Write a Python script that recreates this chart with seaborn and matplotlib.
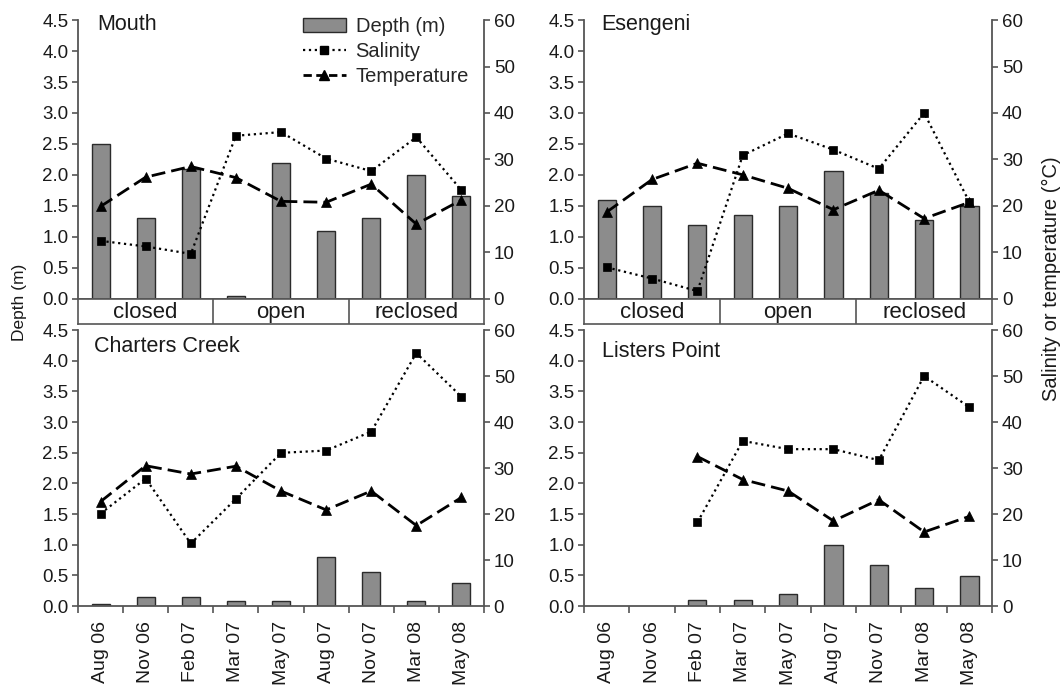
import numpy as np
import pandas as pd
import matplotlib
matplotlib.use("Agg")
import matplotlib.pyplot as plt
import seaborn as sns
from matplotlib.patches import Patch
from matplotlib.lines import Line2D

# sampling dates (shared by all four sites)
dates = ['Aug 06', 'Nov 06', 'Feb 07', 'Mar 07', 'May 07', 'Aug 07', 'Nov 07', 'Mar 08', 'May 08']
phases = ['closed', 'open', 'reclosed']

# Mouth
mouth_depth = [2.5, 1.3, 2.1, 0.05, 2.2, 1.1, 1.3, 2.0, 1.66]
mouth_sal = [12.5, 11.3, 9.7, 35.1, 35.9, 30.2, 27.5, 34.8, 23.4]
mouth_temp = [19.9, 26.2, 28.5, 26.1, 21.0, 20.8, 24.7, 16.1, 21.3]

# Esengeni
esen_depth = [1.6, 1.5, 1.19, 1.35, 1.5, 2.07, 1.71, 1.28, 1.5]
esen_sal = [6.8, 4.4, 1.7, 30.9, 35.6, 32.1, 28.0, 40.0, 20.8]
esen_temp = [18.7, 25.7, 29.2, 26.7, 23.8, 19.2, 23.4, 17.3, 20.8]

# Charters Creek
charters_depth = [0.03, 0.15, 0.15, 0.09, 0.09, 0.80, 0.56, 0.09, 0.38]
charters_sal = [20.1, 27.7, 13.6, 23.3, 33.3, 33.8, 37.9, 55.0, 45.5]
charters_temp = [22.7, 30.5, 28.7, 30.4, 25.0, 20.9, 25.0, 17.5, 23.6]

# Listers Point (no data for the first two trips)
listers_depth = [np.nan, np.nan, 0.10, 0.10, 0.20, 0.99, 0.67, 0.29, 0.49]
listers_sal = [np.nan, np.nan, 18.2, 35.9, 34.1, 34.1, 31.7, 50.0, 43.2]
listers_temp = [np.nan, np.nan, 32.5, 27.5, 25.0, 18.5, 23.1, 16.1, 19.5]

sns.set_theme(style="ticks")
plt.rcParams['font.family'] = ['Liberation Sans', 'DejaVu Sans']

SPINE = '#555555'
BAR = '#8c8c8c'

fig = plt.figure(figsize=(10.6, 6.9), dpi=100)

# axes rectangles [left, bottom, width, height]
LX, LW = 0.0736, 0.383
RX, RW = 0.551, 0.385
TOP_B, TOP_H = 0.5667, 0.4043
BOT_B, BOT_H = 0.1217, 0.400
BAND_B, BAND_H = 0.5304, 0.0362

panels = [
    ('Mouth', mouth_depth, mouth_sal, mouth_temp, [LX, TOP_B, LW, TOP_H], False, (0.047, 0.985)),
    ('Esengeni', esen_depth, esen_sal, esen_temp, [RX, TOP_B, RW, TOP_H], False, (0.043, 0.985)),
    ('Charters Creek', charters_depth, charters_sal, charters_temp, [LX, BOT_B, LW, BOT_H], True, (0.040, 0.940)),
    ('Listers Point', listers_depth, listers_sal, listers_temp, [RX, BOT_B, RW, BOT_H], True, (0.043, 0.922)),
]

twins = []
for name, depth, sal, temp, rect, show_x, tpos in panels:
    df = pd.DataFrame({'date': dates, 'depth': depth, 'sal': sal, 'temp': temp})
    ax = fig.add_axes(rect)
    sns.barplot(data=df, x='date', y='depth', order=dates, color=BAR, saturation=1,
                edgecolor='#2b2b2b', linewidth=1.0, width=0.4, ax=ax)
    ax2 = ax.twinx()
    sns.pointplot(data=df, x='date', y='sal', order=dates, color='black', errorbar=None,
                  marker='s', linestyle=':', linewidth=1.6, markersize=6,
                  markeredgewidth=0.5, ax=ax2)
    sns.pointplot(data=df, x='date', y='temp', order=dates, color='black', errorbar=None,
                  marker='^', linestyle=(0, (5, 2.2)), linewidth=2.0, markersize=6.5,
                  markeredgewidth=0.5, ax=ax2)
    twins.append(ax2)

    ax.set_ylim(0, 4.5)
    ax.set_yticks(np.arange(0, 4.51, 0.5))
    ax.set_yticklabels([f'{v:.1f}' for v in np.arange(0, 4.51, 0.5)])
    ax2.set_ylim(0, 60)
    ax2.set_yticks(range(0, 61, 10))
    ax.set_xlim(-0.5, 8.5)
    for a in (ax, ax2):
        a.set_xlabel('')
        a.set_ylabel('')
        a.spines['top'].set_visible(False)
        for s in a.spines.values():
            s.set_color(SPINE)
            s.set_linewidth(1.3)
    ax.spines['right'].set_visible(False)
    ax2.spines['left'].set_visible(False)
    ax2.spines['bottom'].set_visible(False)
    ax.tick_params(axis='y', labelsize=13.5, length=4, width=1.2, color=SPINE, pad=3, labelcolor='#1a1a1a')
    ax2.tick_params(axis='y', labelsize=13.5, length=4, width=1.2, color=SPINE, pad=3, labelcolor='#1a1a1a')

    if show_x:
        ax.set_xticks(range(len(dates)))
        ax.set_xticklabels(dates, rotation=90, fontsize=14, color='#1a1a1a')
        ax.set_xticks(np.arange(-0.5, len(dates), 1.0), minor=True)
        ax.tick_params(axis='x', which='major', length=0, pad=11)
        ax.tick_params(axis='x', which='minor', length=5, width=1.2, color=SPINE, direction='out')
    else:
        ax.set_xticks([])
        ax.set_xticks([], minor=True)
        # closed / open / reclosed band underneath
        band = fig.add_axes([rect[0], BAND_B, rect[2], BAND_H])
        band.set_xlim(-0.5, 8.5)
        band.set_ylim(0, 1)
        band.set_xticks([])
        band.set_yticks([])
        for s in band.spines.values():
            s.set_visible(True)
            s.set_color(SPINE)
            s.set_linewidth(1.2)
        for b in (2.5, 5.5):
            band.axvline(b, color=SPINE, lw=1.2)
        for i, ph in enumerate(phases):
            band.text(1 + 3 * i, 0.45, ph, ha='center', va='center', fontsize=16, color='#1a1a1a')
    ax2.set_xticks(ax.get_xticks())
    ax2.tick_params(axis='x', which='both', length=0, labelbottom=False)

    ax.text(tpos[0], tpos[1], name, transform=ax.transAxes, ha='left', va='center',
            fontsize=15.5, color='#1a1a1a')

# legend in the Mouth panel
handles = [
    Patch(facecolor=BAR, edgecolor='#2b2b2b', linewidth=1.0),
    Line2D([], [], color='black', linestyle=':', linewidth=1.6, marker='s', markersize=6),
    Line2D([], [], color='black', linestyle=(0, (3, 1.6)), linewidth=2.0, marker='^', markersize=6.5),
]
twins[0].legend(handles, ['Depth (m)', 'Salinity', 'Temperature'], loc='upper left',
                bbox_to_anchor=(0.52, 1.06), frameon=False, fontsize=14.5,
                handlelength=2.1, handletextpad=0.5, labelspacing=0.28, borderpad=0.2)

fig.text(0.018, 0.562, 'Depth (m)', rotation=90, ha='center', va='center', fontsize=12.5, color='#1a1a1a')
fig.text(0.992, 0.596, 'Salinity or temperature (°C)', rotation=90, ha='center', va='center',
         fontsize=14.5, color='#1a1a1a')

fig.savefig('out.png', dpi=100)
